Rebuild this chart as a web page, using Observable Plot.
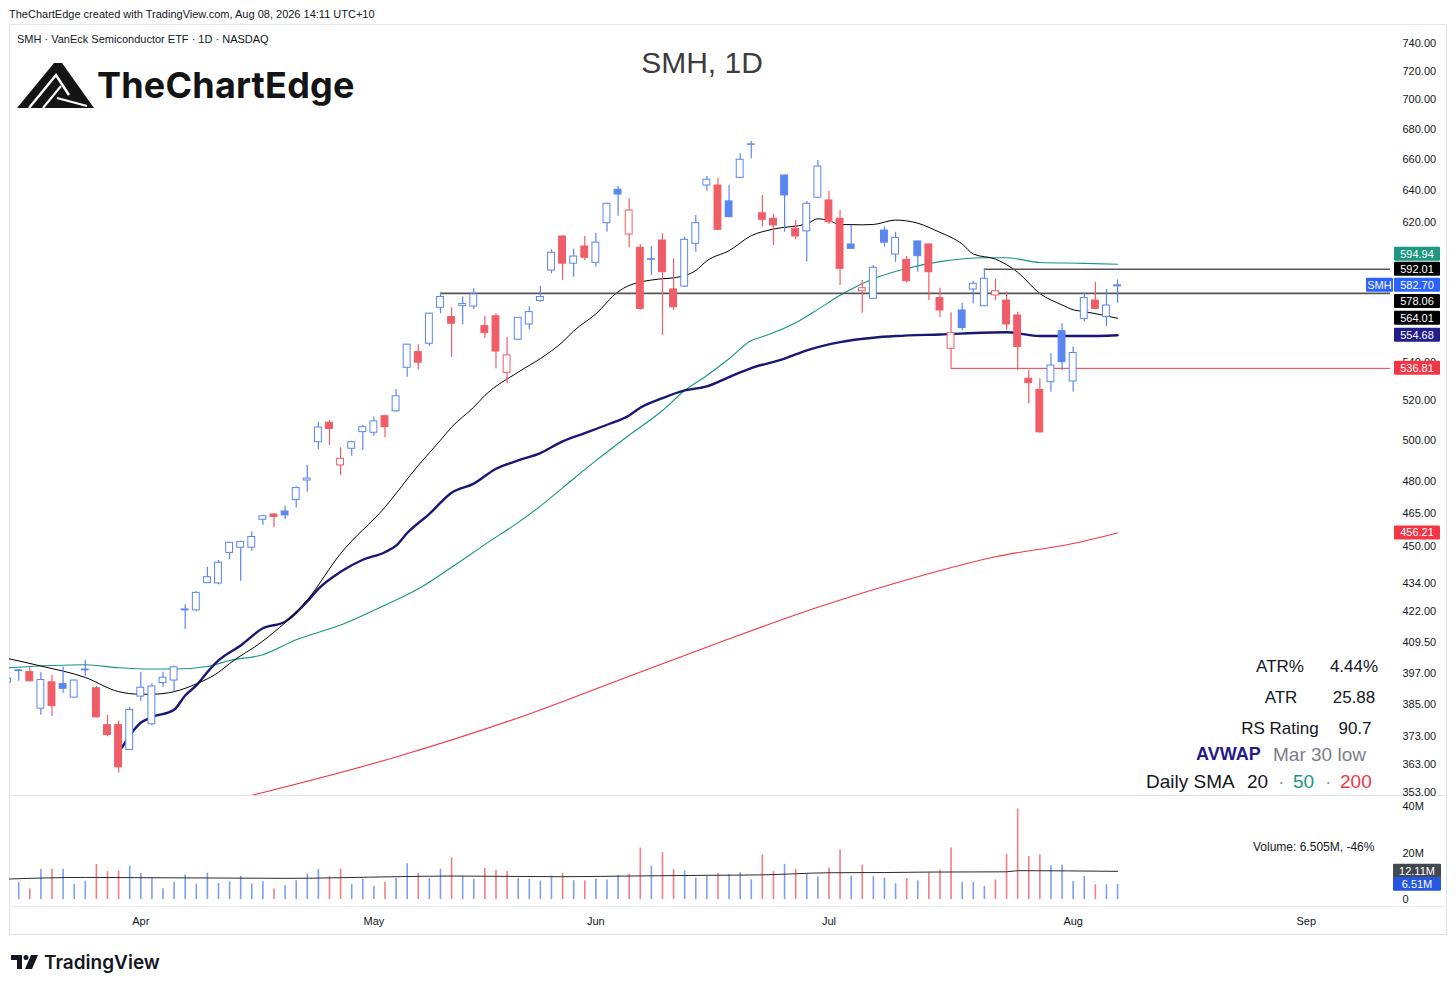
<!DOCTYPE html>
<html><head><meta charset="utf-8">
<script src="https://cdn.jsdelivr.net/npm/d3@7"></script>
<script src="https://cdn.jsdelivr.net/npm/@observablehq/plot@0.6"></script>
<style>
html,body{margin:0;padding:0;background:#fff;}
#page{position:relative;width:1456px;height:989px;overflow:hidden;background:#fff;font-family:"Liberation Sans",Arial,sans-serif;color:#131722;}
.t{position:absolute;white-space:nowrap;line-height:1;transform:translateY(-50%);}
.c{transform:translate(-50%,-50%);}
.box{position:absolute;box-sizing:border-box;}
.holder{position:absolute;}
.holder svg{display:block;}
</style></head>
<body><div id="page">
<div class="t" style="left:9px;top:14px;font-size:11px;">TheChartEdge created with TradingView.com, Aug 08, 2026 14:11 UTC+10</div>
<div class="box" style="left:9px;top:24px;width:1438px;height:911px;border:1px solid #e0e3eb;"></div>
<div class="box" style="left:9px;top:795px;width:1438px;height:1px;background:#e0e3eb;"></div>
<div class="box" style="left:9px;top:906px;width:1438px;height:1px;background:#eef0f4;"></div>
<div id="price" class="holder" style="left:9px;top:24px;"></div>
<div id="volume" class="holder" style="left:9px;top:796px;"></div>

<div class="t" style="left:17px;top:39px;font-size:11px;">SMH · VanEck Semiconductor ETF · 1D · NASDAQ</div>
<div class="t c" style="left:702px;top:63px;font-size:30px;color:#3c3c3c;">SMH, 1D</div>

<svg style="position:absolute;left:17px;top:62px;" width="78" height="47" viewBox="0 0 78 47">
  <polygon points="0,46 37,1 45,1 77,46" fill="#141414"/>
  <path d="M12 46 L39 13 L52 33" stroke="#fff" stroke-width="2.5" fill="none"/>
  <path d="M26 46 L44 24 M40 36 L70 44" stroke="#fff" stroke-width="2" fill="none"/>
</svg>
<div class="t" style="left:97px;top:85px;font-family:Inter,sans-serif;font-weight:700;font-size:36px;color:#141414;letter-spacing:0.2px;">TheChartEdge</div>

<div class="t c" style="left:1280px;top:666px;font-size:17px;">ATR%</div>
<div class="t c" style="left:1354px;top:666px;font-size:17px;">4.44%</div>
<div class="t c" style="left:1281px;top:697px;font-size:17px;">ATR</div>
<div class="t c" style="left:1354px;top:697px;font-size:17px;">25.88</div>
<div class="t c" style="left:1280px;top:728px;font-size:17px;">RS Rating</div>
<div class="t c" style="left:1355px;top:728px;font-size:17px;">90.7</div>
<div class="t" style="left:1196px;top:754px;font-size:18px;font-weight:700;color:#1f1a8c;">AVWAP</div>
<div class="t" style="left:1273px;top:754px;font-size:19px;color:#7b7e8a;">Mar 30 low</div>
<div class="t" style="left:1146px;top:781px;font-size:19px;">Daily SMA</div>
<div class="t" style="left:1247px;top:781px;font-size:19px;">20</div>
<div class="t" style="left:1278px;top:781px;font-size:19px;color:#9598a1;">·</div>
<div class="t" style="left:1293px;top:781px;font-size:19px;color:#15967e;">50</div>
<div class="t" style="left:1325px;top:781px;font-size:19px;color:#9598a1;">·</div>
<div class="t" style="left:1340px;top:781px;font-size:19px;color:#f23645;">200</div>

<div class="t" style="left:1253px;top:847px;font-size:12px;">Volume: 6.505M, -46%</div>

<svg style="position:absolute;left:11px;top:953px;" width="28" height="18" viewBox="0 0 28 18">
  <path d="M0 2 H11 V16 H6 V7 H0 Z" fill="#131722"/>
  <circle cx="15" cy="4.5" r="2.5" fill="#131722"/>
  <path d="M20 2 H27 L21 16 H14 Z" fill="#131722"/>
</svg>
<div class="t" style="left:44px;top:962px;font-family:Inter,sans-serif;font-weight:600;font-size:19px;color:#131722;">TradingView</div>
</div>

<script>
// ---------- DATA ----------
const opens = [393.5,398,397.6,383.5,393.6,392.9,387.7,398.3,391.3,377.3,
377.3,368.2,388.1,377.6,393.3,394.3,422.6,422.6,434.1,434,
447.3,449.6,449.6,462.2,464.6,466,471.3,480.5,499,508.7,
487.7,495.8,504,503.7,512,514.5,537.1,545.5,550,569.9,
564.7,571,570.6,559.7,565.1,534.4,552.2,560.6,573.7,591.3,
611.5,595.3,605.5,595.8,619.6,640.4,612.7,604.7,597.6,609.1,
580.3,582,607.1,643.1,643.1,633.1,648,669.5,625.7,622.3,
649.5,616.2,614.6,635.4,633.7,622.3,606.7,579.3,575,615.1,
600.7,597.6,608.5,606.7,575.4,547.3,568.4,580.3,570.8,576.9,
574,565.6,531.3,525.5,529.5,556.9,529.9,563.7,574,564.7,
582.1];
const highs = [396,398.5,399.7,397.3,396.3,399.6,394.5,402.2,392,381,
378.8,384,397.5,393,397.5,400,425,430.5,441,444,
452,452.5,456.7,464.2,465,468.5,477.5,487.7,509,509.9,
496.3,499.5,507.4,511.6,512.5,525.7,549.8,549.5,566.8,578.06,
569.9,576,580.7,565.2,566.6,553.6,564.5,570.5,582,603.5,
611.8,604,611.5,613.5,632,642.5,634.7,606.7,605.5,613.2,
598.2,611,624.3,648.9,647.8,643.1,663.6,671.7,636.8,625.2,
649.8,621.2,633.1,659.2,639.4,627.4,618.2,585.5,594.3,617.2,
614.1,599.5,608.8,607,581,567.1,572.5,585.1,592.01,586.1,
578.8,567.4,535.7,531.3,544.6,561,548.2,578.2,584.5,580.2,
585.9];
const lows = [393,394,393.8,381,380.5,389.4,387.5,396,380,373,
359.9,368,386.3,377,391.7,390,414.7,422,434,433.4,
444.3,434.9,448,459.6,458.6,462.2,467.6,474.9,495.3,497.4,
482.9,492.1,495,502,501.2,514,532.1,536,548.7,566.6,
542.7,560.4,568.9,552.7,536.6,528.7,551.8,557.7,573,589.4,
585.5,587.4,597.2,593.3,614.1,623.9,604.7,568.5,588.4,554.6,
568.4,581.5,602.1,639.5,615,623,647.5,660.3,617.2,606.1,
614.1,609.5,596.1,634.7,619,582.6,604.1,566.9,575,605.1,
596.1,584,590.3,574,564.3,536.81,557.3,572.2,570.5,574,
557.3,535.7,518.4,503.5,524.3,535.7,524.3,561.9,568.8,559.5,
572.5];
const closes = [395,398.3,394,394.5,384.5,391.1,394.3,398.6,380.2,373.6,
361.9,383,391.5,392,395.4,399.5,423,430,436.7,443,
451.8,452.2,454.4,463.8,463.5,464.2,476.9,481.4,506.3,505.6,
490.9,499,506.5,509.4,506.5,522.2,549.5,539.8,566.6,576,
561,572.1,577.5,555.8,545.8,543.7,564.3,567.5,576,601.8,
595.3,599.5,598.8,607.8,631.6,637.4,627.4,569.3,598,590.3,
570.2,609.5,619.6,646.8,615.6,623.3,659.7,669.8,621.7,618.2,
636.8,611.5,631.6,655.3,620.2,592.3,604.1,581,592.9,607.8,
610.7,585.1,599.7,590.3,568.4,555.8,558.6,583.6,586.5,579.3,
560.6,548.2,529,503.9,538.3,540.1,545,575.4,569.3,571.2,
582.7];
const volumes = [6,7.3,4.5,13,13,13,6.4,7.8,15.1,12,
12.3,14.3,11.2,9,4.6,7.3,10.5,6.6,11.3,6.9,
7.6,10,6.7,7.6,4.5,5.9,8.1,10.9,13,9.8,
13,6.4,8.7,5.6,7.3,9,15.4,11.2,9,13,
17.9,9.8,8.7,13.3,12.6,12,9.1,8.7,7.8,10,
11.3,8.1,8,8.8,8.4,10.4,10.9,22.1,14.3,20.2,
12.9,12.3,9.2,10.1,11.1,10.8,11.5,8.4,19.2,12,
15.1,13,10.9,9.7,13.6,21.3,10.1,14.8,9.8,9.2,
6.7,9,8,11.5,12.6,22.1,7.4,7.4,5.6,8.4,
19.3,39,18.5,19.3,14.4,14.8,7.7,9.9,6.3,6.3,
6.505];

// moving averages read at selected bars (bar index -> value)
const sma20Idx = [0,3,7,10,12,13,15,17,19,20,23,27,30,34,37,39,40,42,43,46,48,50,51,53,55,56,59,60,62,63,65,67,69,72,73,74,75,77,78,80,82,84,85,86,87,89,91,93,95,96,97,100];
const sma20Val = [403,400,395.5,390,389,389,390,393,397.5,401,410,427,447,468,487.7,500,506.5,516.6,522.6,534.8,542,551,557,566.5,579,582.6,586.5,587,591.3,597,603,612,616,619.2,622.3,621.2,618.8,618.6,618.8,621.5,619.6,614,611,607,601,598,590.3,578,571.5,568.8,567.8,564.01];
const sma50Idx = [0,4,7,10,13,15,18,20,23,26,30,34,37,40,43,46,48,50,53,56,59,61,63,65,67,68,71,73,75,76,78,81,84,88,90,93,97,100];
const sma50Val = [399.3,400.2,400.5,399.3,398.8,398.8,399.8,402.2,404.5,410.5,416.5,424.8,431.7,441,451,461,468.5,477,490,502.5,514.9,525.2,533,541.9,551.8,553.8,561.5,569,577,580.5,586.5,592.5,596.5,598.8,598.8,596,595.5,594.94];
const avwapIdx = [10,12,13,15,16,17,18,19,21,23,25,27,28,30,32,34,35,36,38,40,42,44,46,48,50,52,54,56,57,59,61,63,65,67,70,72,75,78,80,84,90,93,97,100];
const avwapVal = [367.1,378.2,380.3,383.1,388.5,392.4,397.6,402.2,408.2,415.2,417.9,426.4,431.7,439,444.3,447.6,450.5,456.2,464.9,474.7,479,486.1,490.1,493.7,499.4,503.5,507.7,512.4,516.3,521.2,525.2,527.3,532.2,536.9,542,546.4,550.9,553.3,554.2,555.1,556.3,554.2,554.2,554.68];
const sma200Idx = [22,35,47,56,64,73,82,89,96,100];
const sma200Val = [352,365.6,381.5,396,409.2,423.9,436.9,445.6,451.5,456.21];
const volMAIdx = [0,7,25,35,40,50,56,63,68,74,79,83,90,91,100];
const volMAVal = [8.8,9.5,9.1,9.8,10.1,9.8,10.1,10.4,10.6,11.5,11.6,11.8,11.9,12.4,12.11];

// horizontal levels: value and the bar where each starts
const levelValues = [578.06, 592.01, 536.81];
const levelStart = [39, 88, 85];

// axis ticks
const priceTicks = [353,363,373,385,397,409.5,422,434,450,465,480,500,520,540,620,640,660,680,700,720,740];
const volTicks = [0,20,40];
const monthTicks = [12,33,53,74,96,117];
const monthLabels = ["Apr","May","Jun","Jul","Aug","Sep"];

// price-scale tags
const tagValues = [594.94, 592.01, 582.70, 578.06, 564.01, 554.68, 536.81, 456.21];
const volTagValues = [12.11, 6.51];

// ---------- STYLE ----------
const BLUE = "#5b86f0", RED = "#ef5d68";
const tagColors = ["#1e9882","#000000","#2962ff","#000000","#000000","#231d8a","#f23645","#f23645"];
const tagNudge = [-10,0,0,8,0,0,0,0];
const volTagColors = ["#45474f","#2456e0"];

const bars = closes.map((c, i) => {
  const prev = i ? closes[i - 1] : -Infinity;
  return {i, o: opens[i], h: highs[i], l: lows[i], c, v: volumes[i],
    col: c > prev ? BLUE : RED, hollow: c >= opens[i]};
});
const pts = (ix, vals) => ix.map((i, k) => ({i, v: vals[k]}));

const W = 1437;
const xDomain = [0.171, 124.59];
const baseStyle = {background: "transparent", fontFamily: "Liberation Sans, Arial, sans-serif", fontSize: "11px", color: "#131722", overflow: "visible"};

const price = Plot.plot({
  width: W, height: 771,
  marginLeft: 0, marginRight: 56, marginTop: 0, marginBottom: 0,
  style: baseStyle,
  x: {domain: xDomain, axis: null},
  y: {type: "log", domain: [353, 740], range: [768, 19], axis: "right", ticks: priceTicks,
      tickFormat: d => d.toFixed(2), tickSize: 0, tickPadding: 12, label: null},
  marks: [
    Plot.line(pts(sma200Idx, sma200Val), {x: "i", y: "v", stroke: "#f23645", strokeWidth: 1.1, curve: "monotone-x", clip: true}),
    Plot.line(pts(sma50Idx, sma50Val), {x: "i", y: "v", stroke: "#15967e", strokeWidth: 1.1, curve: "monotone-x", clip: true}),
    Plot.line(pts(avwapIdx, avwapVal), {x: "i", y: "v", stroke: "#1a1675", strokeWidth: 2.4, curve: "monotone-x", clip: true}),
    Plot.line(pts(sma20Idx, sma20Val), {x: "i", y: "v", stroke: "#000", strokeWidth: 1, curve: "monotone-x", clip: true}),
    Plot.ruleY(levelValues.map((v, k) => ({v, s: levelStart[k], k})), {
      y: "v", x1: "s", x2: xDomain[1],
      stroke: d => d.k === 2 ? "#f23645" : "#555",
      strokeWidth: d => d.k === 2 ? 1 : 1.6, clip: true}),
    Plot.ruleX(bars, {x: "i", y1: "l", y2: "h", stroke: "col", strokeWidth: 1.2, clip: true}),
    Plot.rect(bars, {x1: d => d.i - 0.31, x2: d => d.i + 0.31,
      y1: d => Math.min(d.o, d.c), y2: d => Math.max(d.o, d.c),
      fill: d => d.hollow ? "#ffffff" : d.col, stroke: "col", strokeWidth: 1, clip: true})
  ]
});
document.getElementById("price").appendChild(price);

const volume = Plot.plot({
  width: W, height: 138,
  marginLeft: 0, marginRight: 56, marginTop: 0, marginBottom: 29,
  style: baseStyle,
  x: {domain: xDomain, ticks: monthTicks, tickFormat: d => monthLabels[monthTicks.indexOf(d)],
      tickSize: 0, tickPadding: 12, label: null},
  y: {domain: [0, 40], range: [103, 10], axis: "right", ticks: volTicks,
      tickFormat: d => d ? d + "M" : "0", tickSize: 0, tickPadding: 12, label: null},
  marks: [
    Plot.ruleX(bars, {x: "i", y1: 0, y2: "v", stroke: "col", strokeWidth: 1.6, strokeOpacity: 0.8, clip: true}),
    Plot.line(pts(volMAIdx, volMAVal), {x: "i", y: "v", stroke: "#2a2a2a", strokeWidth: 1, curve: "monotone-x", clip: true})
  ]
});
document.getElementById("volume").appendChild(volume);

// ---------- price-scale tags, positioned with the plots' own scales ----------
function tag(svgEl, yPix, text, bg, x0, w) {
  const g = d3.select(svgEl).append("g");
  g.append("rect").attr("x", x0).attr("y", yPix - 7).attr("width", w).attr("height", 14).attr("rx", 1).attr("fill", bg);
  g.append("text").attr("x", x0 + w / 2).attr("y", yPix).attr("dy", "0.36em")
    .attr("text-anchor", "middle").attr("fill", "#fff").attr("font-size", 11).text(text);
}
const py = price.scale("y");
tagValues.forEach((v, k) => {
  const yy = py.apply(v) + tagNudge[k];
  tag(price, yy, v.toFixed(2), tagColors[k], 1385, 46);
  if (k === 2) tag(price, yy, "SMH", "#2962ff", 1357, 27);
});
const vy = volume.scale("y");
volTagValues.forEach((v, k) => {
  tag(volume, vy.apply(v), v.toFixed(2) + "M", volTagColors[k], 1384, 48);
});
</script>
</body></html>
